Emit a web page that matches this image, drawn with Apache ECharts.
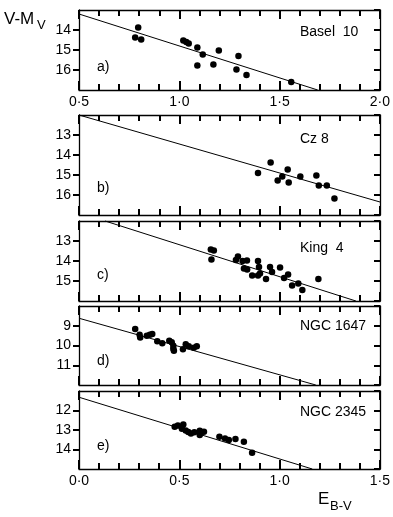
<!DOCTYPE html>
<html><head><meta charset="utf-8">
<script src="https://cdn.jsdelivr.net/npm/echarts@6/dist/echarts.min.js"></script>
<style>html,body{margin:0;padding:0;background:#fff}#c{width:393px;height:517px}</style>
</head><body><div id="c"></div>
<script>
// ---- data (E(B-V), V-Mv) ----
const basel10 = [[0.795,13.88],[0.78,14.38],[0.81,14.47],[1.02,14.53],[1.035,14.6],[1.047,14.67],[1.09,14.88],[1.117,15.22],[1.197,15.03],[1.09,15.77],[1.17,15.73],[1.295,15.3],[1.285,15.98],[1.335,16.25],[1.558,16.6]];
const cz8 = [[1.392,14.9],[1.455,14.38],[1.49,15.27],[1.513,15.07],[1.54,14.72],[1.545,15.37],[1.603,15.07],[1.683,15.02],[1.695,15.52],[1.735,15.52],[1.773,16.18]];
const king4 = [[0.657,13.42],[0.672,13.48],[0.66,13.92],[0.782,13.95],[0.792,13.77],[0.815,14.0],[0.837,13.98],[0.822,14.37],[0.838,14.42],[0.863,14.72],[0.892,14.0],[0.897,14.3],[0.902,14.62],[0.892,14.72],[0.932,14.9],[0.952,14.3],[0.962,14.55],[1.002,14.32],[1.022,14.85],[1.042,14.68],[1.062,15.22],[1.093,15.13],[1.113,15.45],[1.193,14.9]];
const ngc1647 = [[0.28,9.16],[0.302,9.45],[0.305,9.6],[0.338,9.5],[0.353,9.45],[0.365,9.42],[0.39,9.79],[0.415,9.89],[0.45,9.76],[0.462,9.84],[0.47,10.01],[0.473,10.26],[0.47,10.16],[0.518,10.19],[0.532,9.94],[0.547,10.04],[0.572,10.11],[0.587,10.04]];
const ngc2345 = [[0.477,12.83],[0.493,12.77],[0.52,12.72],[0.513,12.93],[0.532,13.02],[0.545,13.1],[0.558,13.18],[0.575,13.12],[0.602,13.04],[0.61,13.1],[0.602,13.26],[0.623,13.09],[0.70,13.35],[0.747,13.51],[0.728,13.44],[0.78,13.46],[0.822,13.6],[0.863,14.17]];
// fitted reddening lines (end points)
const fitA = [[0.5,13.2],[1.69,17.0]];
const fitB = [[0.5,12.0],[2.0,16.35]];
const fitC = [[0.13,12.0],[1.38,16.0]];
const fitD = [[0.0,8.62],[1.18,12.0]];
const fitE = [[0.0,11.32],[1.163,15.0]];
// cluster names and panel tags
const names = ['Basel  10','Cz 8','King  4','NGC 1647','NGC 2345'];
const tags = ['a)','b)','c)','d)','e)'];
// axis ranges
const xRanges = [[0.5,2.0],[0.5,2.0],[0.0,1.5],[0.0,1.5],[0.0,1.5]];
const yRanges = [[13,17],[12,17],[12,16],[8,12],[11,15]];

const dataSets = [basel10, cz8, king4, ngc1647, ngc2345];
const fits = [fitA, fitB, fitC, fitD, fitE];
// layout
const tops = [10, 115, 221, 306, 391];
const heights = [80, 100, 80, 79, 78];
const xLabelShown = [true,false,false,false,true];
const xLabelMargin = [5,0,0,0,5];
const nameY = [33, 140, 249, 327, 413];
const tagY = [68, 189, 276, 362, 447];

const FONT = 'Liberation Sans';
const INK = 'black';
const fmtX = v => v.toFixed(1).replace('.', '\u00b7');

const grid=[], xAxis=[], yAxis=[], series=[], graphic=[];
for (let i=0;i<5;i++){
  for (let k=0;k<2;k++){
    const g = grid.length;
    grid.push({left:79, right:13, top:tops[i], height:heights[i]});
    const pos = k===0 ? 'bottom' : 'top';
    xAxis.push({type:'value', gridIndex:g, position:pos, min:xRanges[i][0], max:xRanges[i][1], interval:0.5,
      axisLine:{show:true, onZero:false, lineStyle:{color:INK, width:1.3}},
      axisTick:{show:true, inside:true, length:9, lineStyle:{color:'black', width:2}},
      minorTick:{show:true, splitNumber:5, length:6, lineStyle:{color:'black', width:2}},
      splitLine:{show:false}, minorSplitLine:{show:false},
      axisLabel:{show:k===0 && xLabelShown[i], margin:xLabelMargin[i], color:INK, fontFamily:FONT, fontSize:14, formatter:fmtX}});
    yAxis.push({type:'value', gridIndex:g, position:k===0?'left':'right', inverse:true, min:yRanges[i][0], max:yRanges[i][1], interval:1,
      axisLine:{show:true, onZero:false, lineStyle:{color:INK, width:1.3}},
      axisTick:{show:true, inside:k===1, length:6, lineStyle:{color:'black', width:2}},
      splitLine:{show:false},
      axisLabel:{show:k===0, margin:8, showMinLabel:false, showMaxLabel:false, color:INK, fontFamily:FONT, fontSize:14}});
  }
  const g0 = 2*i;
  series.push({type:'scatter', xAxisIndex:g0, yAxisIndex:g0, data:dataSets[i], symbolSize:6.5,
    itemStyle:{color:INK, opacity:1},
    markLine:{silent:true, symbol:'none', label:{show:false}, animation:false,
      lineStyle:{color:INK, width:1, type:'solid'},
      data:[[{coord:fits[i][0]},{coord:fits[i][1]}]]}});
  graphic.push({type:'text', left:300, top:nameY[i]-8, style:{text:names[i], font:'14px '+FONT, fill:INK}});
  graphic.push({type:'text', left:97, top:tagY[i]-8, style:{text:tags[i], font:'14px '+FONT, fill:INK}});
}
graphic.push({type:'text', left:4, top:11, style:{text:'V-M', font:'17px '+FONT, fill:INK}});
graphic.push({type:'text', left:37, top:19, style:{text:'V', font:'13px '+FONT, fill:INK}});
graphic.push({type:'text', left:318, top:491, style:{text:'E', font:'17px '+FONT, fill:INK}});
graphic.push({type:'text', left:330, top:500, style:{text:'B-V', font:'13px '+FONT, fill:INK}});

const chart = echarts.init(document.getElementById('c'));
chart.setOption({animation:false, grid, xAxis, yAxis, series, graphic});
</script></body></html>
